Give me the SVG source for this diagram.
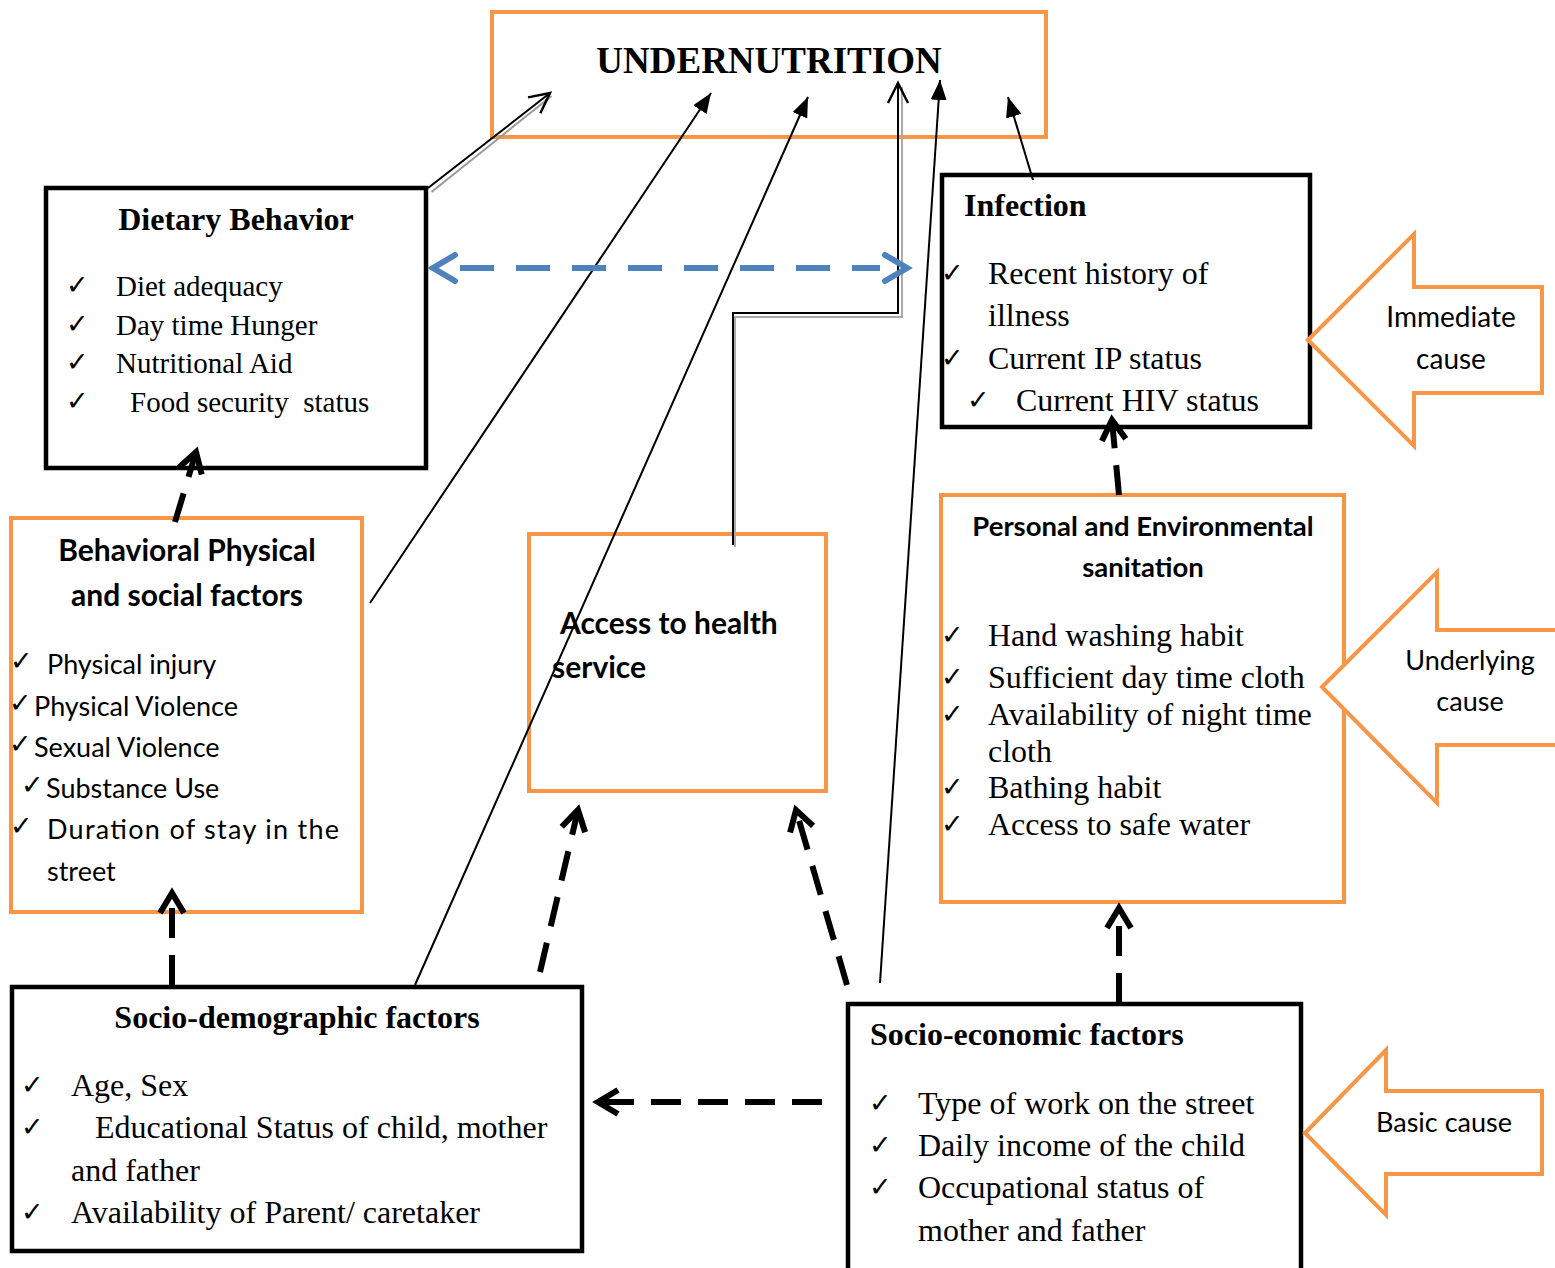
<svg xmlns="http://www.w3.org/2000/svg" width="1555" height="1268" viewBox="0 0 1555 1268">
<defs>
<style>
.ob{fill:#fff;stroke:#f79646;stroke-width:4}
.bb{fill:#fff;stroke:#000;stroke-width:4.5}
.ca{fill:#fff;stroke:#f79646;stroke-width:4;stroke-linejoin:miter}
.tr{font-family:"Liberation Serif","Times New Roman",serif;font-size:32px;fill:#000}
.trb{font-family:"Liberation Serif","Times New Roman",serif;font-size:32px;font-weight:bold;fill:#000}
.cb{font-family:Lato,"Open Sans",sans-serif;font-size:30px;font-weight:bold;fill:#000}
.cr{font-family:Lato,"Open Sans",sans-serif;font-size:27px;fill:#000}
.ck{font-family:"DejaVu Sans",sans-serif;font-size:27px;fill:#000}
.thin{fill:none;stroke:#000;stroke-width:2}
.dash{fill:none;stroke:#000;stroke-width:6;stroke-dasharray:30 17}
.blue{fill:none;stroke:#4f81bd;stroke-width:6;stroke-dasharray:34 22}
</style>
<marker id="af" markerUnits="userSpaceOnUse" markerWidth="22" markerHeight="16" refX="20" refY="8" orient="auto">
<path d="M0,0 L20,8 L0,16 Z" fill="#000"/>
</marker>
<marker id="ao" markerUnits="userSpaceOnUse" markerWidth="26" markerHeight="24" refX="22" refY="12" orient="auto">
<path d="M2,2 L22,12 L2,22" fill="none" stroke="#000" stroke-width="2.5"/>
</marker>
<marker id="ad" markerUnits="userSpaceOnUse" markerWidth="30" markerHeight="32" refX="24" refY="16" orient="auto">
<path d="M4,4 L24,16 L4,28" fill="none" stroke="#000" stroke-width="6" stroke-linejoin="miter"/>
</marker>
</defs>

<g id="undernutrition">
<rect class="ob" x="492" y="12" width="554" height="125"/>
<text class="trb" x="769" y="73" text-anchor="middle" style="font-size:37px">UNDERNUTRITION</text>
</g>

<g id="dietary">
<rect class="bb" x="46" y="188" width="380" height="280"/>
<text class="trb" x="236" y="230" text-anchor="middle">Dietary Behavior</text>
<text class="ck" x="66" y="294">✓</text><text class="tr" x="116" y="296" style="font-size:29px">Diet adequacy</text>
<text class="ck" x="66" y="333">✓</text><text class="tr" x="116" y="335" style="font-size:29px">Day time Hunger</text>
<text class="ck" x="66" y="371">✓</text><text class="tr" x="116" y="373" style="font-size:29px">Nutritional Aid</text>
<text class="ck" x="66" y="410">✓</text><text class="tr" x="130" y="412" style="font-size:29px" xml:space="preserve">Food security  status</text>
</g>

<g id="infection">
<rect class="bb" x="942" y="175" width="368" height="252"/>
<text class="trb" x="964" y="216">Infection</text>
<text class="ck" x="941" y="282">✓</text><text class="tr" x="988" y="284">Recent history of</text>
<text class="tr" x="988" y="326">illness</text>
<text class="ck" x="941" y="367">✓</text><text class="tr" x="988" y="369">Current IP status</text>
<text class="ck" x="967" y="409">✓</text><text class="tr" x="1016" y="411">Current HIV status</text>
</g>

<g id="immediate-cause">
<path class="ca" d="M1308,340 L1414,234 L1414,287 L1542,287 L1542,393 L1414,393 L1414,446 Z"/>
<text class="cr" x="1451" y="327" text-anchor="middle" style="font-size:28px">Immediate</text>
<text class="cr" x="1451" y="369" text-anchor="middle" style="font-size:28px">cause</text>
</g>

<g id="behavioral">
<rect class="ob" x="11" y="518" width="351" height="394"/>
<text class="cb" x="187" y="561" text-anchor="middle">Behavioral Physical</text>
<text class="cb" x="187" y="606" text-anchor="middle">and social factors</text>
<text class="ck" x="10" y="670">✓</text><text class="cr" x="47" y="674">Physical injury</text>
<text class="ck" x="9" y="712">✓</text><text class="cr" x="34" y="716">Physical Violence</text>
<text class="ck" x="9" y="753">✓</text><text class="cr" x="34" y="757">Sexual Violence</text>
<text class="ck" x="21" y="794">✓</text><text class="cr" x="46" y="798">Substance Use</text>
<text class="ck" x="10" y="835">✓</text><text class="cr" x="47" y="839" textLength="292" lengthAdjust="spacing">Duration of stay in the</text>
<text class="cr" x="47" y="881">street</text>
</g>

<g id="access">
<rect class="ob" x="529" y="534" width="297" height="257"/>
<text class="cb" x="560" y="634">Access to health</text>
<text class="cb" x="552" y="678">service</text>
</g>

<g id="personal">
<rect class="ob" x="941" y="495" width="403" height="407"/>
<text class="cb" x="1143" y="536" text-anchor="middle" style="font-size:27.5px">Personal and Environmental</text>
<text class="cb" x="1143" y="577" text-anchor="middle" style="font-size:27.5px">sanitation</text>
<text class="ck" x="941" y="644">✓</text><text class="tr" x="988" y="646">Hand washing habit</text>
<text class="ck" x="941" y="686">✓</text><text class="tr" x="988" y="688">Sufficient day time cloth</text>
<text class="ck" x="941" y="723">✓</text><text class="tr" x="988" y="725">Availability of night time</text>
<text class="tr" x="988" y="762">cloth</text>
<text class="ck" x="941" y="796">✓</text><text class="tr" x="988" y="798">Bathing habit</text>
<text class="ck" x="941" y="833">✓</text><text class="tr" x="988" y="835">Access to safe water</text>
</g>

<g id="underlying-cause">
<path class="ca" d="M1322,687 L1437,572 L1437,630 L1560,630 L1560,745 L1437,745 L1437,803 Z"/>
<text class="cr" x="1470" y="670" text-anchor="middle">Underlying</text>
<text class="cr" x="1470" y="711" text-anchor="middle">cause</text>
</g>

<g id="socio-demographic">
<rect class="bb" x="12" y="987" width="570" height="264"/>
<text class="trb" x="297" y="1028" text-anchor="middle">Socio-demographic factors</text>
<text class="ck" x="21" y="1094">✓</text><text class="tr" x="71" y="1096">Age, Sex</text>
<text class="ck" x="21" y="1136">✓</text><text class="tr" x="95" y="1138">Educational Status of child, mother</text>
<text class="tr" x="71" y="1181">and father</text>
<text class="ck" x="21" y="1221">✓</text><text class="tr" x="71" y="1223">Availability of Parent/ caretaker</text>
</g>

<g id="socio-economic">
<rect class="bb" x="848" y="1004" width="453" height="270"/>
<text class="trb" x="870" y="1045">Socio-economic factors</text>
<text class="ck" x="869" y="1112">✓</text><text class="tr" x="918" y="1114">Type of work on the street</text>
<text class="ck" x="869" y="1154">✓</text><text class="tr" x="918" y="1156">Daily income of the child</text>
<text class="ck" x="869" y="1196">✓</text><text class="tr" x="918" y="1198">Occupational status of</text>
<text class="tr" x="918" y="1241">mother and father</text>
</g>

<g id="basic-cause">
<path class="ca" d="M1305,1133 L1386,1050 L1386,1091 L1542,1091 L1542,1174 L1386,1174 L1386,1215 Z"/>
<text class="cr" x="1444" y="1132" text-anchor="middle">Basic cause</text>
</g>

<g id="connectors">
<line x1="430" y1="190" x2="550" y2="94" stroke="#999" stroke-width="2" transform="translate(1.5,2)"/>
<line class="thin" x1="428" y1="188" x2="550" y2="93" marker-end="url(#ao)"/>
<line class="thin" x1="370" y1="603" x2="711" y2="93" marker-end="url(#af)"/>
<line class="thin" x1="415" y1="985" x2="808" y2="97" marker-end="url(#af)"/>
<polyline points="733,545 733,315 900,315 900,85" fill="none" stroke="#aaa" stroke-width="2" transform="translate(2,2)"/>
<polyline class="thin" points="733,545 733,313 898,313 898,83" marker-end="url(#ao)"/>
<line class="thin" x1="880" y1="983" x2="940" y2="80" marker-end="url(#af)"/>
<line class="thin" x1="1033" y1="180" x2="1008" y2="97" marker-end="url(#af)"/>
<line class="blue" x1="460" y1="268" x2="880" y2="268"/>
<path d="M455,255 L433,268 L455,281" fill="none" stroke="#4f81bd" stroke-width="6" stroke-linecap="round"/>
<path d="M885,255 L907,268 L885,281" fill="none" stroke="#4f81bd" stroke-width="6" stroke-linecap="round"/>
<line class="dash" x1="175" y1="522" x2="196" y2="452" marker-end="url(#ad)" stroke-dasharray="26 14"/>
<line class="dash" x1="172" y1="985" x2="172" y2="893" marker-end="url(#ad)" stroke-dasharray="22 14"/>
<line class="dash" x1="540" y1="972" x2="578" y2="810" marker-end="url(#ad)"/>
<line class="dash" x1="847" y1="985" x2="796" y2="810" marker-end="url(#ad)"/>
<line class="dash" x1="1119" y1="1003" x2="1119" y2="908" marker-end="url(#ad)" stroke-dasharray="22 14"/>
<line class="dash" x1="1119" y1="495" x2="1112" y2="420" marker-end="url(#ad)" stroke-dasharray="26 14"/>
<line class="dash" x1="822" y1="1102" x2="598" y2="1102" marker-end="url(#ad)"/>
</g>
</svg>
